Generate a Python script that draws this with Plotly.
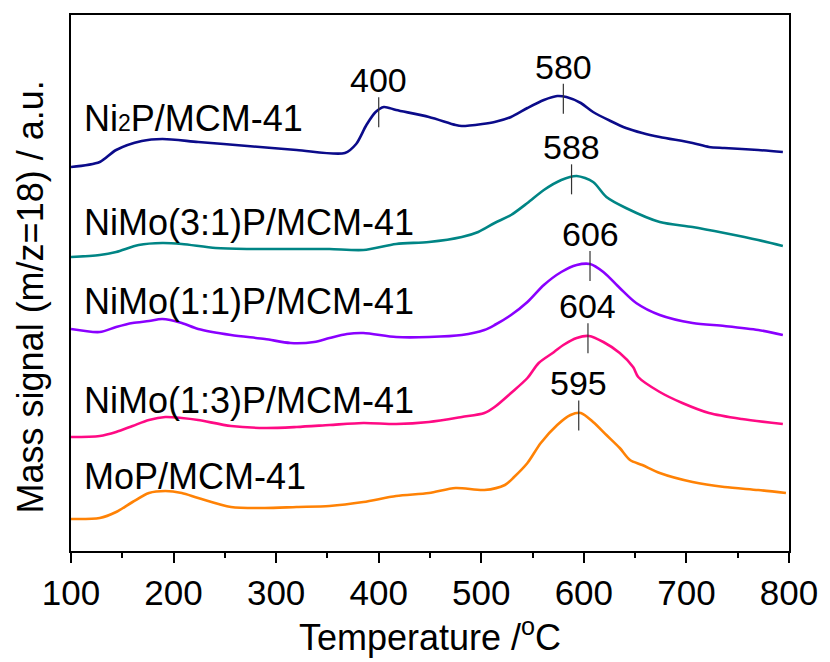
import numpy as np
import plotly.graph_objects as go

# ---- data (signal in arbitrary units, curves already vertically offset) ----
names = ["Ni<span style='font-size:23px'>2</span>P/MCM-41", "NiMo(3:1)P/MCM-41",
         "NiMo(1:1)P/MCM-41", "NiMo(1:3)P/MCM-41", "MoP/MCM-41"]
colors = ["#0B0B8A", "#008585", "#8A00FF", "#FF0A84", "#FF8205"]

t_ni2p = [100,128,144,169,189,224,272,320,367,378,388,397,405,417,449,475,481,501,513,529,545,561,574,583,597,609,626,641,657,674,706,722,737,770,794]
s_ni2p = [384,389,401,410,412,409,405,401,398,407,426,439,444,441,434,426,425,427,429,434,443,451,455,454,448,439,430,423,418,414,408,404,403,401,399]

t_31 = [100,128,144,166,189,208,241,272,320,352,385,417,449,481,497,513,529,545,561,578,593,609,622,641,674,706,737,770,794]
s_31 = [294,296,299,306,308,307,303,302,302,302,301,307,309,314,319,328,336,348,361,371,375,369,354,343,329,324,318,311,305]

t_11 = [100,128,144,160,176,189,208,224,256,289,314,337,352,369,385,417,449,481,503,513,529,545,561,578,593,606,619,635,651,674,706,737,770,794]
s_11 = [222,219,224,228,230,232,228,222,216,212,208,209,213,217,218,214,214,216,221,226,236,249,266,279,286,287,279,263,248,236,228,225,221,216]

t_13 = [100,128,144,160,176,192,208,224,256,289,320,352,385,417,449,481,503,513,529,545,556,571,580,593,605,619,635,648,653,674,696,722,754,794]
s_13 = [114,115,119,125,131,134,133,131,125,123,124,126,128,127,129,134,138,144,158,173,188,199,206,213,215,209,198,184,174,159,148,138,132,127]

t_mop = [100,128,144,160,176,192,208,224,256,289,320,352,385,417,449,475,503,523,532,545,558,574,587,597,609,622,635,645,657,674,706,737,770,797]
s_mop = [32,33,39,49,58,60,58,53,44,43,44,45,49,55,58,63,61,66,74,88,108,126,136,138,129,116,103,91,86,78,69,64,61,58]

temps = [t_ni2p, t_31, t_11, t_13, t_mop]
signals = [s_ni2p, s_31, s_11, s_13, s_mop]

# peak labels: (series index, temperature)
peak_series = [0, 0, 1, 2, 3, 4]
peak_temps = [400, 580, 588, 606, 604, 595]

label_y = [433, 329, 250, 151, 75]   # vertical positions of the sample labels

x_ticks = [100, 200, 300, 400, 500, 600, 700, 800]

FONT = "Liberation Sans, Arial, sans-serif"

fig = go.Figure()
for i in range(5):
    fig.add_trace(go.Scatter(x=temps[i], y=signals[i], mode="lines",
                             line=dict(color=colors[i], width=2.6, shape="spline", smoothing=0.8),
                             showlegend=False, hoverinfo="skip"))

annotations = []
shapes = []
for si, tp in zip(peak_series, peak_temps):
    yv = float(np.interp(tp, temps[si], signals[si]))
    shapes.append(dict(type="line", xref="x", yref="y", x0=tp, x1=tp,
                       y0=yv - 17, y1=yv + 13,
                       line=dict(color="#333333", width=1.2)))
    annotations.append(dict(x=tp, y=yv + 13, xref="x", yref="y", text=str(tp),
                            showarrow=False, yanchor="middle", yshift=17,
                            font=dict(size=34, color="black", family=FONT)))

for name, ly in zip(names, label_y):
    annotations.append(dict(x=0.015, y=ly, xref="paper", yref="y", text=name,
                            showarrow=False, xanchor="left", yanchor="middle",
                            font=dict(size=36, color="black", family=FONT)))

# y-axis title as rotated text
annotations.append(dict(x=-0.0564, y=0.474, xref="paper", yref="paper",
                        text="Mass signal (m/z=18) / a.u.", textangle=-90,
                        showarrow=False, xanchor="center", yanchor="middle",
                        font=dict(size=36, color="black", family=FONT)))

fig.update_layout(
    width=830, height=662,
    margin=dict(l=71, r=32, t=15, b=111),
    paper_bgcolor="white", plot_bgcolor="white",
    font=dict(family=FONT, color="black"),
    annotations=annotations, shapes=shapes,
    xaxis=dict(range=[100, 800], tickvals=x_ticks,
               ticks="outside", ticklen=10, tickwidth=2, tickcolor="black",
               minor=dict(ticks="outside", ticklen=5, tickwidth=2, dtick=50, tickcolor="black"),
               showline=True, linecolor="black", linewidth=2, mirror=True,
               showgrid=False, zeroline=False,
               tickfont=dict(size=35, family=FONT),
               title=dict(text="Temperature /<sup>o</sup>C", font=dict(size=36, family=FONT), standoff=12)),
    xaxis2=dict(range=[100, 800], overlaying="x", side="top", dtick=50, tick0=100,
                ticks="outside", ticklen=3, tickwidth=1, tickcolor="black",
                showticklabels=False, showline=False, showgrid=False, zeroline=False),
    yaxis=dict(range=[0, 536], showticklabels=False, ticks="",
               showline=True, linecolor="black", linewidth=2, mirror=True,
               showgrid=False, zeroline=False),
    yaxis2=dict(range=[0, 536], overlaying="y", side="right",
                tickvals=[91, 178, 269, 358, 446], ticks="inside", ticklen=4, tickwidth=1,
                tickcolor="black", showticklabels=False, showline=False,
                showgrid=False, zeroline=False),
)

fig.write_html("out.html")
